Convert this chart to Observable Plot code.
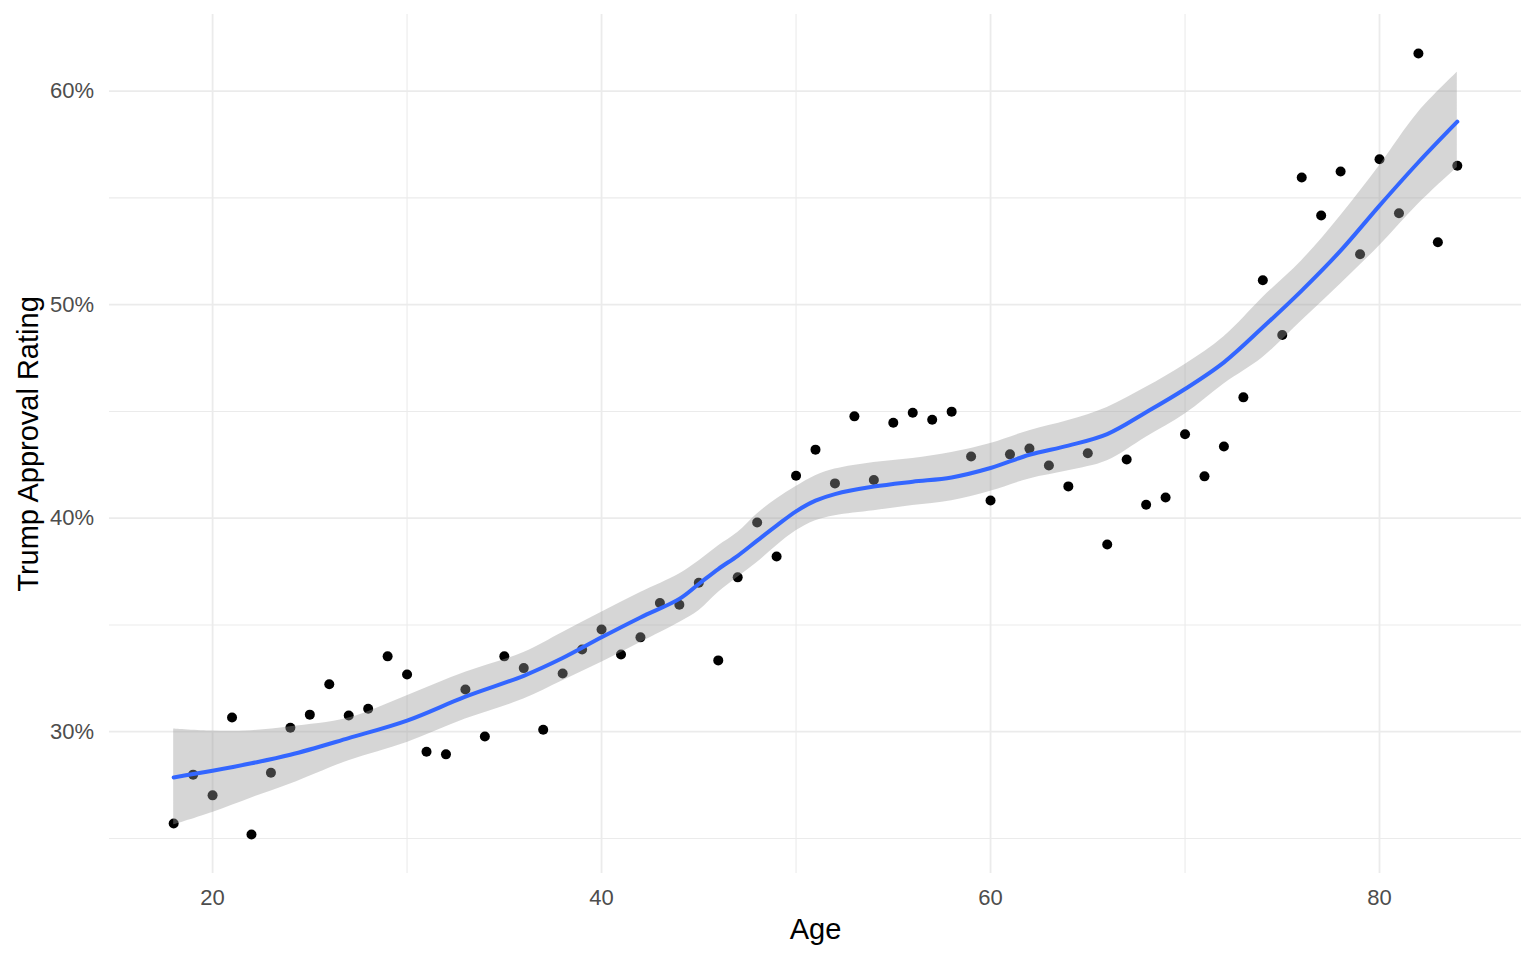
<!DOCTYPE html>
<html>
<head>
<meta charset="utf-8">
<script src="https://cdn.jsdelivr.net/npm/d3@7"></script>
<script src="https://cdn.jsdelivr.net/npm/@observablehq/plot@0.6"></script>
<style>
  html, body { margin: 0; padding: 0; background: #ffffff; }
  #chart { width: 1536px; height: 960px; }
</style>
</head>
<body>
<div id="chart"></div>
<script>
// Observed points: age and approval (%)
const ages = [18,19,20,21,22,23,24,25,26,27,28,29,30,31,32,33,34,35,36,37,38,39,40,41,42,43,44,45,46,47,48,49,50,51,52,53,54,55,56,57,58,59,60,61,62,63,64,65,66,67,68,69,70,71,72,73,74,75,76,77,78,79,80,81,82,83,84];
const approval = [25.70,27.99,27.02,30.67,25.19,28.08,30.19,30.80,32.22,30.76,31.08,33.53,32.68,29.06,28.94,31.98,29.78,33.53,32.98,30.09,32.73,33.85,34.79,33.62,34.42,36.03,35.95,36.98,33.34,37.23,39.80,38.21,41.99,43.21,41.63,44.77,41.79,44.47,44.94,44.61,44.99,42.89,40.83,42.99,43.26,42.47,41.49,43.04,38.77,42.75,40.63,40.97,43.93,41.96,43.36,45.66,51.14,48.58,55.96,54.18,56.24,52.36,56.81,54.28,61.76,52.92,56.51];

// Smoothed trend with its confidence band
const smoothAges  = [18,20,22,24,27,30,33,36,38,40,42,44,45,46,47,48,49,50,51,52,54,56,58,60,62,64,66,68,70,72,74,76,78,80,82,84];
const smoothFit   = [27.86,28.17,28.52,28.92,29.70,30.52,31.64,32.62,33.45,34.42,35.35,36.22,36.92,37.62,38.24,38.95,39.65,40.32,40.82,41.13,41.48,41.71,41.91,42.35,42.97,43.40,43.94,44.96,46.05,47.30,48.94,50.66,52.53,54.64,56.67,58.57];
const smoothUpper = [30.13,30.03,30.05,30.23,30.64,31.69,32.78,33.71,34.65,35.59,36.52,37.39,38.00,38.70,39.33,40.20,40.90,41.48,41.99,42.30,42.61,42.80,43.08,43.50,44.10,44.57,45.19,46.13,47.20,48.50,50.34,52.06,54.17,56.51,59.01,60.88];
const smoothLower = [25.64,26.22,26.90,27.55,28.64,29.50,30.59,31.53,32.39,33.25,34.18,35.12,35.67,36.52,37.23,37.93,38.71,39.41,39.88,40.12,40.35,40.59,40.82,41.26,41.84,42.22,42.69,43.79,44.88,46.29,47.53,49.25,50.97,52.76,54.72,56.43];

// Axis ticks
const xMajor = [20, 40, 60, 80];
const xMinor = [30, 50, 70];
const yMajor = [30, 40, 50, 60];
const yMinor = [25, 35, 45, 55];

const points = ages.map((a, i) => ({age: a, value: approval[i]}));
const smooth = smoothAges.map((a, i) => ({age: a, fit: smoothFit[i], lo: smoothLower[i], hi: smoothUpper[i]}));

const grid = "#ebebeb";
const chart = Plot.plot({
  width: 1536,
  height: 960,
  marginLeft: 109,
  marginRight: 15,
  marginTop: 14,
  marginBottom: 87,
  style: {fontFamily: "'Liberation Sans', Arial, sans-serif", background: "#ffffff", overflow: "visible"},
  x: {domain: [14.7, 87.3], label: null},
  y: {domain: [23.36, 63.59], label: null},
  marks: [
    Plot.gridX(xMinor, {stroke: grid, strokeOpacity: 1, strokeWidth: 1.1}),
    Plot.gridY(yMinor, {stroke: grid, strokeOpacity: 1, strokeWidth: 1.1}),
    Plot.gridX(xMajor, {stroke: grid, strokeOpacity: 1, strokeWidth: 1.8}),
    Plot.gridY(yMajor, {stroke: grid, strokeOpacity: 1, strokeWidth: 1.8}),
    Plot.axisX({ticks: xMajor, tickSize: 0, tickPadding: 16, fontSize: 22, color: "#4d4d4d", label: null}),
    Plot.axisY({ticks: yMajor, tickSize: 0, tickPadding: 15.5, fontSize: 22, color: "#4d4d4d", label: null, tickFormat: d => d + "%"}),
    Plot.dot(points, {x: "age", y: "value", r: 5, fill: "#000000", stroke: "none"}),
    Plot.areaY(smooth, {x: "age", y1: "lo", y2: "hi", fill: "#999999", fillOpacity: 0.4, curve: "catmull-rom"}),
    Plot.line(smooth, {x: "age", y: "fit", stroke: "#3366FF", strokeWidth: 4, curve: "catmull-rom"}),
    Plot.text(["Age"], {text: d => d, frameAnchor: "bottom", textAnchor: "middle", lineAnchor: "bottom", dy: 65, fontSize: 29, fill: "#000000"}),
    Plot.text(["Trump Approval Rating"], {text: d => d, frameAnchor: "left", textAnchor: "middle", rotate: -90, lineAnchor: "bottom", dx: -72, fontSize: 29, fill: "#000000"})
  ]
});
document.getElementById("chart").appendChild(chart);
</script>
</body>
</html>
